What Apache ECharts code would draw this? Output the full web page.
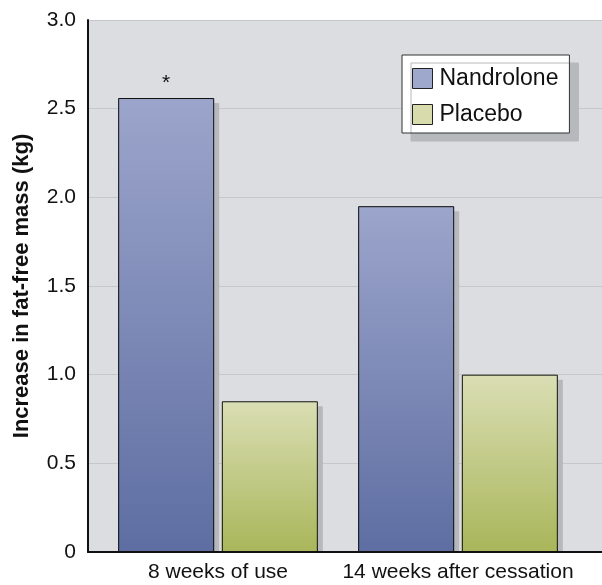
<!DOCTYPE html>
<html>
<head>
<meta charset="utf-8">
<script src="https://cdn.jsdelivr.net/npm/echarts@6/dist/echarts.min.js"></script>
<style>
  html, body { margin: 0; padding: 0; background: #fff; }
  #main { width: 602px; height: 585px; }
</style>
</head>
<body>
<div id="main"></div>
<script>
var categories = ['8 weeks of use', '14 weeks after cessation'];
var nandrolone = [2.56, 1.95];
var placebo = [0.85, 1.0];
var yTicks = [0, 0.5, 1.0, 1.5, 2.0, 2.5, 3.0];

var chart = echarts.init(document.getElementById('main'));
var font = 'Liberation Sans, Arial, Helvetica, sans-serif';

function grad(top, bottom) {
  return new echarts.graphic.LinearGradient(0, 0, 0, 1, [
    { offset: 0, color: top },
    { offset: 1, color: bottom }
  ]);
}

// bars are drawn twice: filled with drop shadow (grid 1), then outline only (grid 2)
function barSeries(name, data, colors, outline, grid) {
  var s = {
    name: name, type: 'bar', xAxisIndex: grid, yAxisIndex: grid,
    barWidth: 96, barGap: '8%', z: outline ? 4 : 2,
    data: data
  };
  if (outline) {
    s.itemStyle = { color: 'rgba(0,0,0,0)', borderColor: '#111', borderWidth: 1 };
    s.silent = true;
  } else {
    s.itemStyle = {
      color: grad(colors[0], colors[1]),
      shadowColor: '#b7b8bb', shadowBlur: 0, shadowOffsetX: 5, shadowOffsetY: 5
    };
  }
  return s;
}

var nandData = nandrolone.map(function (v, i) {
  return i === 0 ? { value: v, label: { show: true, position: 'top', formatter: '*', fontSize: 21, color: '#111', distance: 4 } } : v;
});

var option = {
  animation: false,
  textStyle: { fontFamily: font },
  legend: {
    orient: 'vertical',
    left: 402,
    top: 55,
    padding: [12, 11, 7, 10],
    itemWidth: 20,
    itemHeight: 20,
    itemGap: 13,
    icon: 'rect',
    backgroundColor: '#fff',
    borderColor: '#333',
    borderWidth: 1,
    shadowColor: '#b7b8bb',
    shadowBlur: 0,
    shadowOffsetX: 9,
    shadowOffsetY: 8,
    textStyle: { fontSize: 23, color: '#111', fontFamily: font, padding: [0, 0, 0, 2] },
    data: [
      { name: 'Nandrolone', itemStyle: { color: '#9ea7cc', borderColor: '#222', borderWidth: 1 } },
      { name: 'Placebo', itemStyle: { color: '#d8dcad', borderColor: '#222', borderWidth: 1 } }
    ]
  },
  // white strip under the x axis so the bar shadows stop at the axis line
  graphic: [{
    type: 'rect', z: 10, silent: true,
    shape: { x: 88, y: 553, width: 514, height: 7 },
    style: { fill: '#fff' }
  }],
  grid: [
    { left: 88, right: 0, top: 20, bottom: 33, show: true, backgroundColor: '#dcdde0', borderWidth: 0 },
    { left: 98, right: 24, top: 20, bottom: 33 },
    { left: 98, right: 24, top: 20, bottom: 33 }
  ],
  xAxis: [
    {
      gridIndex: 0, type: 'category', data: [''], z: 5,
      axisLine: { lineStyle: { color: '#111', width: 2 } },
      axisTick: { show: false }, axisLabel: { show: false }, splitLine: { show: false }
    },
    {
      gridIndex: 1, type: 'category', data: categories,
      axisLine: { show: false }, axisTick: { show: false },
      axisLabel: { fontSize: 21, color: '#111', margin: 10, interval: 0, fontFamily: font }
    },
    { gridIndex: 2, type: 'category', data: categories, show: false }
  ],
  yAxis: [
    {
      gridIndex: 0, type: 'value', min: 0, max: 3, interval: 0.5,
      name: 'Increase in fat-free mass (kg)',
      nameLocation: 'middle', nameGap: 55,
      nameTextStyle: { fontSize: 22, fontWeight: 'bold', color: '#111', fontFamily: font },
      axisLine: { show: true, lineStyle: { color: '#111', width: 2 } },
      axisTick: { show: false },
      axisLabel: {
        fontSize: 21, color: '#111', margin: 12, fontFamily: font,
        formatter: function (v) { return yTicks.indexOf(v) === 0 ? '0' : v.toFixed(1); }
      },
      splitLine: { lineStyle: { color: '#c6c7ca', width: 1 } }
    },
    { gridIndex: 1, type: 'value', min: 0, max: 3, interval: 0.5, show: false },
    { gridIndex: 2, type: 'value', min: 0, max: 3, interval: 0.5, show: false }
  ],
  series: [
    barSeries('Nandrolone', nandData, ['#9ca5cb', '#5e6ea2'], false, 1),
    barSeries('Placebo', placebo, ['#dadeb4', '#a9b65a'], false, 1),
    barSeries('Nandrolone outline', nandrolone, null, true, 2),
    barSeries('Placebo outline', placebo, null, true, 2)
  ]
};

chart.setOption(option);
</script>
</body>
</html>
